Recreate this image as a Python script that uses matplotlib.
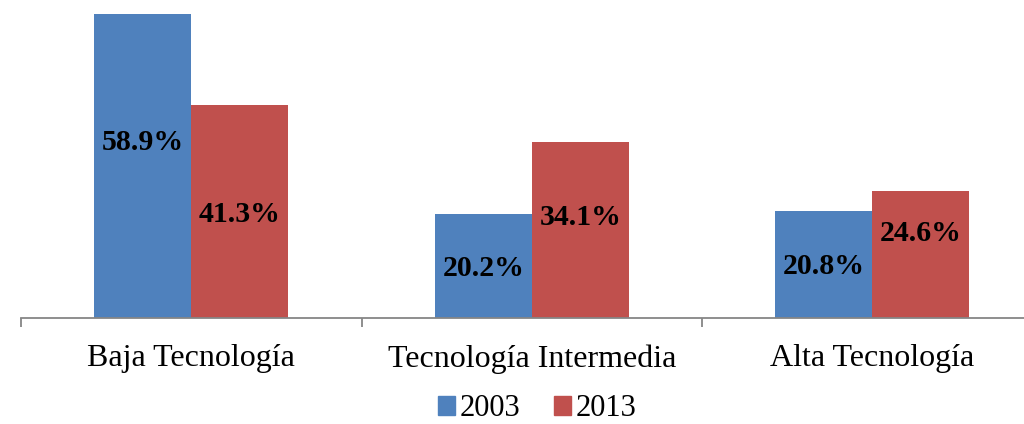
import matplotlib
matplotlib.use("Agg")
import matplotlib.pyplot as plt
from matplotlib.patches import Patch

# chart data
categories = ["Baja Tecnología", "Tecnología Intermedia", "Alta Tecnología"]
years = ["2003", "2013"]
values_2003 = [58.9, 20.2, 20.8]
values_2013 = [41.3, 34.1, 24.6]
# where Excel put each value label (in data units)
label_y_2003 = [34.0, 9.5, 9.9]
label_y_2013 = [20.0, 19.4, 16.4]

colors = ["#4F81BD", "#C0504D"]
serif = "Liberation Serif"

fig = plt.figure(figsize=(10.24, 4.24), dpi=100)
ax = fig.add_axes([21 / 1024, 106 / 424, 1021.5 / 1024, 309.7 / 424])

x = list(range(len(categories)))
w = 0.285
ax.bar([i - w / 2 for i in x], values_2003, w, color=colors[0])
ax.bar([i + w / 2 for i in x], values_2013, w, color=colors[1])

for i in x:
    ax.text(i - w / 2, label_y_2003[i], f"{values_2003[i]:.1f}%", ha="center", va="center",
            fontsize=21.5, fontweight="bold", family=serif, color="black")
    ax.text(i + w / 2, label_y_2013[i], f"{values_2013[i]:.1f}%", ha="center", va="center",
            fontsize=21.5, fontweight="bold", family=serif, color="black")

ax.set_xlim(-0.5, 2.5)
ax.set_ylim(0, 60)
ax.set_yticks([])
for s in ["top", "right", "left"]:
    ax.spines[s].set_visible(False)
ax.spines["bottom"].set_color("#868686")
ax.spines["bottom"].set_linewidth(1.3)

# category boundaries as ticks, names as minor ticks
ax.set_xticks([-0.5, 0.5, 1.5, 2.5])
ax.set_xticklabels([])
ax.tick_params(axis="x", which="major", length=6.5, width=1.3, color="#868686")
ax.set_xticks(x, minor=True)
ax.set_xticklabels(categories, minor=True, fontsize=23, family=serif)
ax.tick_params(axis="x", which="minor", length=0, pad=19)

handles = [Patch(color=c) for c in colors]
fig.legend(handles, years, loc="center", bbox_to_anchor=(537 / 1024, 15 / 424), ncol=2,
           frameon=False, prop={"family": serif, "size": 22}, handlelength=0.55,
           handleheight=0.55, handletextpad=0.15, columnspacing=1.1,
           borderpad=0.1)

fig.savefig("out.png", dpi=100)
